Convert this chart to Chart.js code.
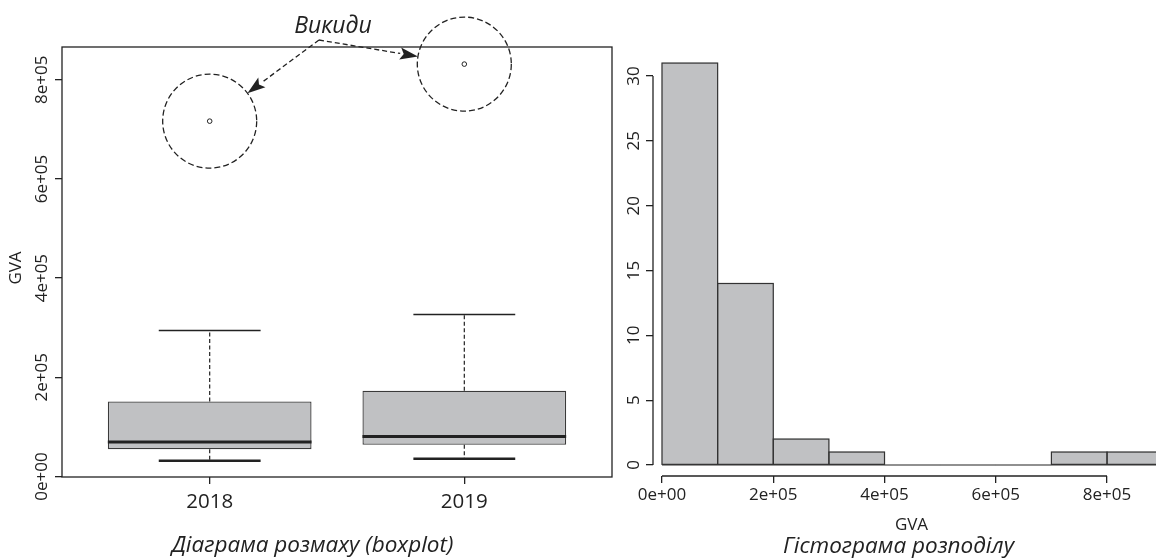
<!DOCTYPE html>
<html>
<head>
<meta charset="utf-8">
<script src="https://cdn.jsdelivr.net/npm/chart.js@4.4.1/dist/chart.umd.min.js"></script>
<style>
  html, body { margin: 0; padding: 0; background: #fff; overflow: hidden; width: 1156px; height: 560px; }
  #boxWrap { position: absolute; left: 0; top: 0; width: 640px; height: 560px; }
  #histWrap { position: absolute; left: 620px; top: 0; width: 556px; height: 560px; }
</style>
</head>
<body>
<div id="boxWrap"><canvas id="boxChart"></canvas></div>
<div id="histWrap"><canvas id="histChart"></canvas></div>
<script>
// ---- boxplot data (GVA by year) ----
const years = ['2018', '2019'];
const whiskerLow = [31700, 35700];
const q1 = [55200, 63900];
const medians = [69400, 80600];
const q3 = [151200, 172800];
const whiskerHigh = [294400, 326600];
const outliers = [716500, 831500];
const boxYTicks = [0, 200000, 400000, 600000, 800000];

// ---- histogram data ----
const binEdges = [0, 100000, 200000, 300000, 400000, 500000, 600000, 700000, 800000, 900000];
const counts = [31, 14, 2, 1, 0, 0, 0, 1, 1];
const histYTicks = [0, 5, 10, 15, 20, 25, 30];
const histXTicks = [0, 200000, 400000, 600000, 800000];

const FONT = "'Open Sans', 'Noto Sans', sans-serif";
const INK = '#222';
const FILL = '#c0c1c3';

Chart.defaults.font.family = FONT;
Chart.defaults.color = INK;

// R style labels: 2e+05
function sci(v) {
  return v.toExponential(0).replace(/e([+-])(\d)$/, 'e$10$2');
}

function line(ctx, x1, y1, x2, y2) {
  ctx.beginPath();
  ctx.moveTo(x1, y1);
  ctx.lineTo(x2, y2);
  ctx.stroke();
}

function rotatedText(ctx, txt, x, y) {
  ctx.save();
  ctx.translate(x, y);
  ctx.rotate(-Math.PI / 2);
  ctx.textAlign = 'center';
  ctx.textBaseline = 'middle';
  ctx.fillText(txt, 0, 0);
  ctx.restore();
}

// ==================== BOXPLOT EXTRAS ====================
const boxExtras = {
  id: 'boxExtras',
  afterDatasetsDraw(chart) {
    const { ctx, chartArea: a, scales: { x, y } } = chart;
    ctx.save();
    ctx.strokeStyle = INK;

    years.forEach((yr, i) => {
      const c = i + 1;
      const cx = x.getPixelForValue(c);
      // whiskers
      ctx.lineWidth = 1.2;
      ctx.setLineDash([4, 2.5]);
      line(ctx, cx, y.getPixelForValue(q3[i]), cx, y.getPixelForValue(whiskerHigh[i]));
      line(ctx, cx, y.getPixelForValue(q1[i]), cx, y.getPixelForValue(whiskerLow[i]));
      ctx.setLineDash([]);
      // caps
      ctx.lineWidth = 1.5;
      line(ctx, x.getPixelForValue(c - 0.2), y.getPixelForValue(whiskerHigh[i]),
                x.getPixelForValue(c + 0.2), y.getPixelForValue(whiskerHigh[i]));
      ctx.lineWidth = 2.5;
      line(ctx, x.getPixelForValue(c - 0.2), y.getPixelForValue(whiskerLow[i]),
                x.getPixelForValue(c + 0.2), y.getPixelForValue(whiskerLow[i]));
      // median
      ctx.lineWidth = 3;
      line(ctx, x.getPixelForValue(c - 0.4), y.getPixelForValue(medians[i]),
                x.getPixelForValue(c + 0.4), y.getPixelForValue(medians[i]));
    });

    // frame
    ctx.lineWidth = 1.3;
    ctx.strokeRect(a.left, a.top, a.right - a.left, a.bottom - a.top);

    // dashed circles around outliers + arrows
    const anchor = { x: a.left + 257, y: a.top - 7 };
    const R = 47;
    const pts = chart.getDatasetMeta(1).data;
    pts.forEach(p => {
      ctx.lineWidth = 1.3;
      ctx.setLineDash([6, 3]);
      ctx.beginPath();
      ctx.arc(p.x, p.y, R, 0, Math.PI * 2);
      ctx.stroke();

      const dx = anchor.x - p.x, dy = anchor.y - p.y;
      const len = Math.hypot(dx, dy);
      const ux = dx / len, uy = dy / len;
      const tip = { x: p.x + ux * R, y: p.y + uy * R };
      const head = 18, half = 6;
      const bx = tip.x + ux * head, by = tip.y + uy * head;
      ctx.setLineDash([5, 3]);
      line(ctx, anchor.x, anchor.y, bx, by);
      ctx.setLineDash([]);
      ctx.fillStyle = INK;
      ctx.beginPath();
      ctx.moveTo(tip.x, tip.y);
      ctx.lineTo(bx - uy * half, by + ux * half);
      ctx.lineTo(tip.x + ux * head * 0.8, tip.y + uy * head * 0.8);
      ctx.lineTo(bx + uy * half, by - ux * half);
      ctx.closePath();
      ctx.fill();
    });

    ctx.fillStyle = INK;
    ctx.font = "italic 23px " + FONT;
    ctx.textAlign = 'center';
    ctx.textBaseline = 'alphabetic';
    ctx.fillText('Викиди', a.left + 271, a.top - 14);

    // y tick labels (vertical, like R)
    ctx.font = "17px " + FONT;
    boxYTicks.forEach(v => rotatedText(ctx, sci(v), a.left - 20, y.getPixelForValue(v)));
    rotatedText(ctx, 'GVA', 16, (a.top + a.bottom) / 2 + 6);

    // caption
    ctx.font = "italic 22.5px " + FONT;
    ctx.textAlign = 'center';
    ctx.textBaseline = 'alphabetic';
    ctx.fillText('Діаграма розмаху (boxplot)', a.left + 250.5, 552);
    ctx.restore();
  }
};

new Chart(document.getElementById('boxChart'), {
  type: 'bar',
  data: {
    datasets: [{
      type: 'bar',
      data: years.map((yr, i) => ({ x: i + 1, y: [q1[i], q3[i]] })),
      backgroundColor: FILL,
      borderColor: '#3a3a3a',
      borderWidth: 1.3,
      borderSkipped: false,
      categoryPercentage: 1,
      barPercentage: 0.8
    }, {
      type: 'scatter',
      data: outliers.map((v, i) => ({ x: i + 1, y: v })),
      pointRadius: 2.3,
      pointBackgroundColor: '#fff',
      pointBorderColor: INK,
      pointBorderWidth: 1
    }]
  },
  options: {
    responsive: true,
    maintainAspectRatio: false,
    animation: false,
    layout: { padding: { left: 0, top: 47, right: 28, bottom: 0 } },
    plugins: { legend: { display: false }, tooltip: { enabled: false } },
    scales: {
      x: {
        type: 'linear',
        min: 0.42,
        max: 2.58,
        offset: false,
        afterBuildTicks: s => { s.ticks = years.map((yr, i) => ({ value: i + 1 })); },
        afterFit: s => { s.height = 83; },
        ticks: { callback: v => years[v - 1], font: { size: 20.5 }, padding: 6, color: INK, maxRotation: 0 },
        grid: { drawOnChartArea: false, offset: false, tickLength: 7, color: INK, lineWidth: 1.3 },
        border: { display: false }
      },
      y: {
        min: -1000,
        max: 866000,
        afterBuildTicks: s => { s.ticks = boxYTicks.map(v => ({ value: v })); },
        afterFit: s => { s.width = 62; },
        ticks: { display: false },
        grid: { drawOnChartArea: false, tickLength: 7, color: INK, lineWidth: 1.3 },
        border: { display: false }
      }
    }
  },
  plugins: [boxExtras]
});

// ==================== HISTOGRAM EXTRAS ====================
const histExtras = {
  id: 'histExtras',
  afterDatasetsDraw(chart) {
    const { ctx, chartArea: a, scales: { x, y } } = chart;
    ctx.save();
    ctx.strokeStyle = '#333';
    ctx.lineWidth = 1.2;
    // bar outlines (shared edges drawn once)
    chart.getDatasetMeta(0).data.forEach((bar, i) => {
      if (!counts[i]) return;
      const p = bar.getProps(['x', 'y', 'base', 'width'], true);
      ctx.strokeRect(p.x - p.width / 2, p.y, p.width, p.base - p.y);
    });
    const y0 = y.getPixelForValue(0);
    line(ctx, x.getPixelForValue(binEdges[0]), y0, x.getPixelForValue(binEdges[binEdges.length - 1]), y0);

    // axis lines spanning the tick range only
    ctx.strokeStyle = INK;
    ctx.lineWidth = 1.3;
    line(ctx, a.left, y.getPixelForValue(histYTicks[0]), a.left, y.getPixelForValue(histYTicks[histYTicks.length - 1]));
    line(ctx, x.getPixelForValue(histXTicks[0]), a.bottom, x.getPixelForValue(histXTicks[histXTicks.length - 1]), a.bottom);

    ctx.fillStyle = INK;
    ctx.font = "17px " + FONT;
    histYTicks.forEach(v => rotatedText(ctx, String(v), a.left - 19, y.getPixelForValue(v)));

    ctx.font = "italic 22.5px " + FONT;
    ctx.textAlign = 'center';
    ctx.textBaseline = 'alphabetic';
    ctx.fillText('Гістограма розподілу', a.left + 245.5, 552.5);
    ctx.restore();
  }
};

new Chart(document.getElementById('histChart'), {
  type: 'bar',
  data: {
    datasets: [{
      data: counts.map((c, i) => ({ x: (binEdges[i] + binEdges[i + 1]) / 2, y: c })),
      backgroundColor: FILL,
      borderWidth: 0,
      categoryPercentage: 1,
      barPercentage: 1
    }]
  },
  options: {
    responsive: true,
    maintainAspectRatio: false,
    animation: false,
    layout: { padding: { left: 0, top: 47, right: 6, bottom: 0 } },
    plugins: { legend: { display: false }, tooltip: { enabled: false } },
    scales: {
      x: {
        type: 'linear',
        min: -16200,
        max: 913200,
        offset: false,
        afterBuildTicks: s => { s.ticks = histXTicks.map(v => ({ value: v })); },
        afterFit: s => { s.height = 84; },
        ticks: { callback: v => sci(v), font: { size: 17 }, padding: 2, color: INK, maxRotation: 0 },
        grid: { drawOnChartArea: false, offset: false, tickLength: 7, color: INK, lineWidth: 1.3 },
        border: { display: false },
        title: { display: true, text: 'GVA', font: { size: 17 }, color: INK, padding: { top: 0, bottom: 25 } }
      },
      y: {
        min: -0.848,
        max: 32.24,
        afterBuildTicks: s => { s.ticks = histYTicks.map(v => ({ value: v })); },
        afterFit: s => { s.width = 33; },
        ticks: { display: false },
        grid: { drawOnChartArea: false, tickLength: 7, color: INK, lineWidth: 1.3 },
        border: { display: false }
      }
    }
  },
  plugins: [histExtras]
});
</script>
</body>
</html>
